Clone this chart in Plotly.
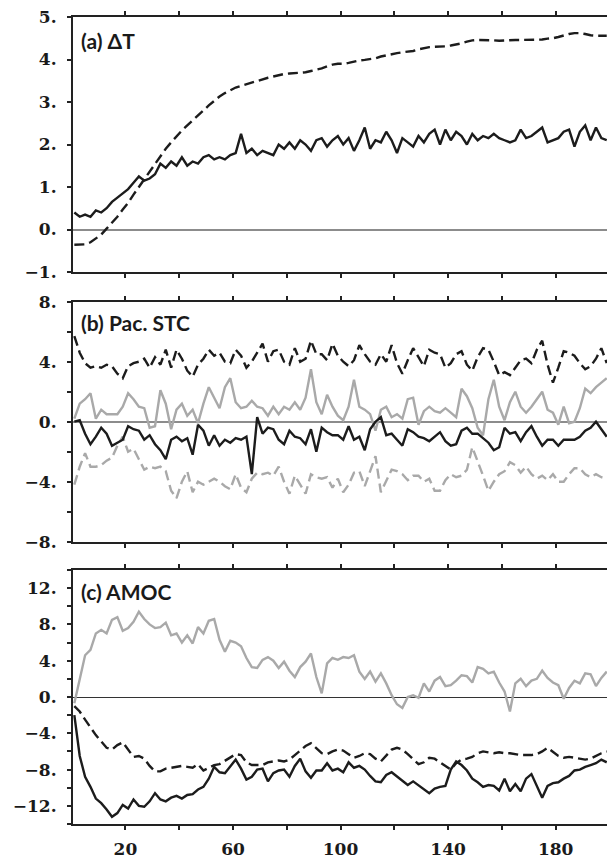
import plotly.graph_objects as go

# model years (2-year sampling)
YEARS = list(range(1, 200, 2))

# (a) global mean surface temperature change
dT_solid = [
    0.4, 0.3, 0.35, 0.3, 0.45, 0.4, 0.5, 0.65, 0.75, 0.85,
    0.95, 1.1, 1.25, 1.15, 1.2, 1.3, 1.55, 1.45, 1.6, 1.5,
    1.7, 1.5, 1.6, 1.55, 1.7, 1.75, 1.65, 1.7, 1.65, 1.75,
    1.8, 2.25, 1.8, 1.9,
    1.75, 1.85, 1.8, 1.75, 2.0, 1.9, 2.05, 1.9, 2.1, 2.0,
    1.85, 2.1, 2.15, 1.95, 2.1, 2.2, 2.0, 2.15, 1.85, 2.1,
    2.4, 1.9, 2.1, 2.05, 2.3, 2.1, 1.8, 2.15, 2.05, 1.95,
    2.2, 2.05, 2.25,
    2.35, 2.0, 2.35, 2.1, 2.3, 2.2, 2.0, 2.25, 2.1, 2.2,
    2.15, 2.25, 2.15, 2.1, 2.05, 2.1, 2.35, 2.15, 2.2, 2.3,
    2.4, 2.05, 2.1, 2.15, 2.3, 2.35, 1.95, 2.3, 2.45, 2.1,
    2.4, 2.15, 2.1,
]
dT_dash = [
    -0.36, -0.36, -0.35, -0.3, -0.22, -0.12, 0.02, 0.15, 0.3, 0.47,
    0.63, 0.82, 1.0, 1.18, 1.38, 1.56, 1.73, 1.9, 2.05, 2.2,
    2.33, 2.45, 2.56, 2.68, 2.8, 2.92, 3.03, 3.13, 3.21, 3.28,
    3.34, 3.38, 3.42, 3.46,
    3.5, 3.54, 3.57, 3.6, 3.63, 3.66, 3.67, 3.68, 3.68, 3.7,
    3.73, 3.76, 3.79, 3.84, 3.88, 3.9, 3.9, 3.92, 3.95, 3.98,
    3.99, 4.01, 4.03, 4.07, 4.1, 4.12, 4.15, 4.17, 4.18, 4.2,
    4.24, 4.27, 4.29,
    4.3, 4.3, 4.31, 4.33, 4.35, 4.38, 4.42, 4.45, 4.46, 4.46,
    4.46, 4.45, 4.44, 4.45, 4.46, 4.46, 4.46, 4.46, 4.46, 4.46,
    4.47, 4.49, 4.5, 4.53, 4.57, 4.6, 4.62, 4.62, 4.6, 4.57,
    4.56, 4.56, 4.56,
]

# (b) Pacific subtropical cells
stc_black_dash = [
    5.7, 4.6, 3.9, 3.6, 3.7, 3.6, 3.8, 3.7, 3.2, 2.9,
    3.7, 3.9, 4.0, 4.2, 3.6, 4.3, 3.8, 4.8, 3.6, 4.8,
    4.2, 3.4, 3.0, 3.8, 4.2, 4.8, 4.4, 4.6, 4.0, 3.9,
    4.8, 4.4, 3.6, 4.0,
    4.6, 5.2, 4.0, 4.7, 4.8, 4.0, 3.8, 4.9, 4.0, 4.2,
    5.4, 4.5, 4.5, 4.1, 5.2, 4.4, 4.0, 3.7, 4.1, 5.1,
    4.5, 4.0, 3.8, 4.5, 4.0, 5.1, 3.9, 3.2, 4.1, 4.9,
    4.3, 3.7, 4.8,
    4.6, 4.5, 3.6, 3.9, 4.5, 4.7, 3.8, 3.4, 4.3, 4.9,
    4.8, 4.0, 3.1, 3.3, 3.1, 3.6, 4.1, 4.2, 3.9, 4.8,
    5.4, 3.8, 2.6, 3.6, 4.7, 4.6, 4.4, 3.9, 3.5, 3.7,
    4.2, 4.9, 3.9,
]
stc_gray_solid = [
    0.2, 1.2, 1.5, 1.9, 0.2, 0.8, 0.5, 0.5, 0.5, 1.0,
    1.9, 1.5, 1.0, 0.9, -0.4, -0.3, 2.1, 1.2, -0.5, 0.8,
    1.2, 0.4, 0.8, -0.1, 1.2, 2.3, 1.6, 0.9, 2.3, 2.9,
    1.3, 0.9, 1.0, 1.4,
    1.0, 0.9, 0.4, 1.0, 0.5, 1.0, 0.8, 1.3, 0.8, 1.6,
    3.5, 1.3, 0.5, 1.8, 1.0, 0.4, 0.1, 1.0, 2.8, 1.0,
    0.8, 0.5, -0.6, 0.8, 1.0, 0.3, 0.5, 0.2, 1.5, 1.6,
    -0.2, 0.7, 1.0,
    0.7, 0.6, 0.9, 0.6, 0.3, 2.2, 1.7, 0.9, -0.4, -0.9,
    1.5, 2.8, 1.0, 0.1, 1.3, 2.0, 1.0, 0.6, 1.0, 1.5,
    2.0, 0.8, 0.6, -0.2, 1.0, -0.1, 0.0, 0.9, 2.2, 1.9,
    2.3, 2.6, 2.9,
]
stc_black_solid = [
    0.0, 0.1, -0.8, -1.5, -1.0, -0.4, -0.8, -1.6, -1.4, -1.2,
    -0.3, -0.5, -0.6, -1.2, -0.9, -1.5, -1.9, -2.5, -1.2, -1.0,
    -1.3, -1.1, -2.2, -0.2, -0.6, -1.6, -0.9, -1.6, -1.2, -1.4,
    -1.1, -1.2, -1.0, -3.5,
    0.3, -0.8, -0.4, -0.5, -1.2, -1.5, -0.6, -1.0, -1.1, -1.5,
    -0.5, -2.0, -0.4, -0.7, -0.9, -0.9, -1.2, -0.3, -1.2, -1.0,
    -1.9, -0.5, 0.0, 0.3, -0.9, -0.8, -1.2, -1.6, -0.5, -0.7,
    -1.0, -1.1, -1.3,
    -1.0, -0.7, -1.3, -1.6, -1.5, -0.6, -0.4, -0.8, -0.8, -1.1,
    -1.4, -1.9, -1.7, -0.4, -0.8, -0.7, -1.3, -0.7, -0.3, -1.0,
    -1.6, -1.2, -1.2, -1.6, -1.2, -1.2, -1.2, -1.0, -0.6, -0.4,
    0.0, -0.5, -1.0,
]
stc_gray_dash = [
    -4.2, -3.0, -2.1, -3.0, -3.0, -2.9, -2.6, -2.4, -1.6, -1.0,
    -2.0, -1.8, -2.5, -3.2, -3.0, -3.1, -3.0, -3.3, -4.6, -5.1,
    -4.0, -3.3, -4.7, -4.0, -4.2, -4.0, -3.8, -4.0, -4.3, -4.5,
    -3.5, -4.4, -4.7, -3.8,
    -3.4, -3.5, -3.4, -3.6, -3.0, -4.0, -4.8, -3.6, -4.2, -4.8,
    -3.5, -3.7, -3.8, -3.7, -4.4, -3.8, -4.7, -4.2, -3.4, -3.3,
    -4.3, -3.3, -2.3, -4.7, -3.9, -3.2, -3.3, -3.5, -3.9, -3.6,
    -3.6, -4.0, -3.8,
    -4.6, -4.6, -3.9, -3.5, -3.7, -3.6, -3.2, -1.7, -2.6, -3.6,
    -4.6, -4.0, -3.5, -3.3, -2.7, -2.9, -3.4, -3.0, -3.5, -3.8,
    -3.6, -3.9, -3.5, -4.0, -4.0, -3.5, -3.1, -3.1, -3.5, -3.7,
    -3.5, -3.7, -3.8,
]

# (c) Atlantic meridional overturning circulation
amoc_gray = [
    -0.7, 1.8, 4.6, 5.2, 7.0, 7.4, 7.0, 8.5, 8.8, 7.3,
    7.6, 8.3, 9.4, 8.6, 8.0, 7.6, 7.7, 8.2, 6.8, 7.0,
    6.0, 6.8, 5.9, 7.7, 7.0, 8.4, 8.6, 6.3, 5.0, 6.2,
    6.0, 5.6, 4.3, 3.3,
    3.2, 4.1, 4.4, 4.0, 3.2, 3.9, 2.9, 2.2, 3.3, 3.9,
    4.8, 2.2, 0.4, 3.7, 4.3, 4.1, 4.4, 4.3, 4.6, 2.8,
    2.0, 2.8, 1.7, 2.6, 1.5, 0.2, -0.8, -1.2, 0.0, 0.2,
    -0.1, 1.5, 0.6,
    1.8, 2.2, 1.2, 1.3, 1.8, 2.4, 2.3, 1.6, 3.3, 3.1,
    2.6, 2.8, 1.6, 0.6, -1.6, 1.5, 2.0, 1.2, 1.8, 2.0,
    2.9, 2.1, 1.6, 1.3, -0.2, 1.0, 1.8, 1.5, 2.6, 2.5,
    1.2, 2.1, 2.8,
]
amoc_black = [
    -2.0, -6.5, -8.8, -9.9, -11.2, -11.7, -12.4, -13.2, -12.8, -11.9,
    -12.3, -11.3, -12.0, -12.1, -11.5, -10.6, -11.3, -11.5, -11.1, -10.9,
    -11.2, -10.8, -10.7, -10.2, -9.9, -9.0, -7.7, -8.3, -8.4, -7.6,
    -6.9, -7.9, -9.1, -8.8,
    -8.0, -7.9, -9.3, -8.4, -8.1, -8.0, -8.8, -7.6, -6.8, -8.2,
    -8.9, -8.1, -8.1, -7.3, -8.1, -7.9, -8.3, -7.2, -7.8, -7.6,
    -8.0, -8.7, -9.3, -9.4, -8.6, -8.3, -8.8, -9.2, -9.7, -9.3,
    -9.7, -10.1, -10.6,
    -10.1, -9.9, -9.8, -8.0, -7.1, -7.5, -8.1, -9.0, -9.4, -9.9,
    -9.7, -9.8, -10.3, -9.0, -10.4, -9.6, -10.4, -9.0, -8.5, -9.8,
    -11.1, -9.8, -9.5, -9.4, -9.0, -8.7, -8.1, -8.0, -7.7, -7.5,
    -7.3, -6.9, -7.2,
]
amoc_black_dash = [
    -1.0, -1.6, -2.5, -3.4, -4.2, -4.9, -5.6, -5.8, -5.3, -5.0,
    -5.8, -6.6, -6.5, -6.8, -7.6, -8.2, -8.2, -7.9, -7.8, -7.7,
    -7.6, -7.7, -7.8, -7.4, -8.1, -7.8, -7.5, -7.4, -7.0, -6.6,
    -6.3, -6.4, -7.2, -7.5,
    -7.5, -7.5, -7.2, -7.1, -7.0, -7.1, -6.9, -6.4, -5.9, -5.4,
    -5.1, -5.6, -6.2, -6.3, -6.0, -5.8, -5.9, -6.3, -6.7, -6.5,
    -6.2, -6.3, -6.8, -7.1, -6.5, -5.8, -5.6, -5.8, -6.3, -6.9,
    -7.4, -7.2, -6.7,
    -6.8, -7.2, -7.6, -8.0, -7.3, -6.9, -6.8, -6.6, -6.2, -6.0,
    -6.1, -6.2, -6.1, -6.2, -6.2, -6.3, -6.4, -6.4, -6.4, -6.3,
    -6.0, -5.6, -6.1, -6.5, -6.7, -6.6, -6.7, -6.8, -6.9, -6.8,
    -6.5, -6.2, -6.0,
]

# axis ticks
X_TICKS = [20, 40, 60, 80, 100, 120, 140, 160, 180]
X_TICKTEXT = ["20", "", "60", "", "100", "", "140", "", "180"]
A_TICKS = [-1, 0, 1, 2, 3, 4, 5]
B_TICKS = [-8, -4, 0, 4, 8]
C_TICKS = [-12, -8, -4, 0, 4, 8, 12]

BLACK = "#1c1c1c"
GRAY = "#a9a9a9"
DASH = "10px,5px"
LW = 2.4

W, H = 607, 859
ML, MT, MB = 73, 17, 35
PLOT_H = H - MT - MB


def ydom(top_px, bottom_px):
    return [(H - MB - bottom_px) / PLOT_H, (H - MB - top_px) / PLOT_H]


def lbl(v):
    return ("\u2212" if v < 0 else "") + f"{abs(v)}."


fig = go.Figure()

series = [
    ("x", "y", dT_dash, BLACK, DASH),
    ("x", "y", dT_solid, BLACK, "solid"),
    ("x2", "y2", stc_gray_dash, GRAY, DASH),
    ("x2", "y2", stc_gray_solid, GRAY, "solid"),
    ("x2", "y2", stc_black_dash, BLACK, DASH),
    ("x2", "y2", stc_black_solid, BLACK, "solid"),
    ("x3", "y3", amoc_gray, GRAY, "solid"),
    ("x3", "y3", amoc_black_dash, BLACK, DASH),
    ("x3", "y3", amoc_black, BLACK, "solid"),
]
for xa, ya, vals, col, dash in series:
    fig.add_trace(go.Scatter(
        x=YEARS, y=vals, xaxis=xa, yaxis=ya, mode="lines",
        line=dict(color=col, width=LW, dash=dash),
        showlegend=False, hoverinfo="skip",
    ))

tick_font = dict(family="DejaVu Serif", size=17, color="#1a1a1a", weight="bold")

xbase = dict(
    range=[0.5, 199.1], tickmode="array", tickvals=X_TICKS, ticktext=X_TICKTEXT,
    ticks="outside", ticklen=4, tickwidth=1.5, tickcolor="#222",
    showline=True, linecolor="#222", linewidth=2, mirror="ticks",
    showgrid=False, zeroline=False, tickfont=tick_font,
)
ybase = dict(
    ticks="outside", ticklen=4, tickwidth=1.5, tickcolor="#222",
    showline=True, linecolor="#222", linewidth=2, mirror=False,
    showgrid=False, zeroline=True, tickfont=tick_font,
    tickmode="array", ticklabelstandoff=7,
)

layout = dict(
    width=W, height=H,
    margin=dict(l=ML, r=0, t=MT, b=MB),
    paper_bgcolor="white", plot_bgcolor="white",
    xaxis=dict(xbase, domain=[0, 1], anchor="y", showticklabels=False),
    xaxis2=dict(xbase, domain=[0, 1], anchor="y2", showticklabels=False),
    xaxis3=dict(xbase, domain=[0, 1], anchor="y3", showticklabels=True,
                ticklabelstandoff=5),
    yaxis=dict(ybase, domain=ydom(17, 272), anchor="x", range=[-1, 5],
               tickvals=A_TICKS, ticktext=[lbl(v) for v in A_TICKS],
               zerolinecolor="#8c8c8c", zerolinewidth=1.5),
    yaxis2=dict(ybase, domain=ydom(301.7, 541.7), anchor="x2", range=[-8, 8],
                tickvals=B_TICKS, ticktext=[lbl(v) for v in B_TICKS],
                zerolinecolor="#8c8c8c", zerolinewidth=1.5,
                minor=dict(tickmode="linear", tick0=0, dtick=2, ticks="outside",
                           ticklen=4, tickwidth=1.5, tickcolor="#222")),
    yaxis3=dict(ybase, domain=ydom(570, 824), anchor="x3", range=[-14, 14],
                tickvals=C_TICKS, ticktext=[lbl(v) for v in C_TICKS],
                zerolinecolor="#333", zerolinewidth=1,
                minor=dict(tickmode="linear", tick0=0, dtick=2, ticks="outside",
                           ticklen=4, tickwidth=1.5, tickcolor="#222")),
)
fig.update_layout(**layout)

panel_font = dict(family="Lato", size=21, color="#1a1a1a", weight="bold")
for text, ypx in [("(a) \u0394T", 41), ("(b) Pac. STC", 322.5), ("(c) AMOC", 591.7)]:
    fig.add_annotation(
        text=text, xref="paper", yref="paper",
        x=(79 - ML) / (W - ML), y=(H - MB - ypx) / PLOT_H,
        xanchor="left", yanchor="middle", showarrow=False, font=panel_font,
    )

fig.write_html("out.html")
